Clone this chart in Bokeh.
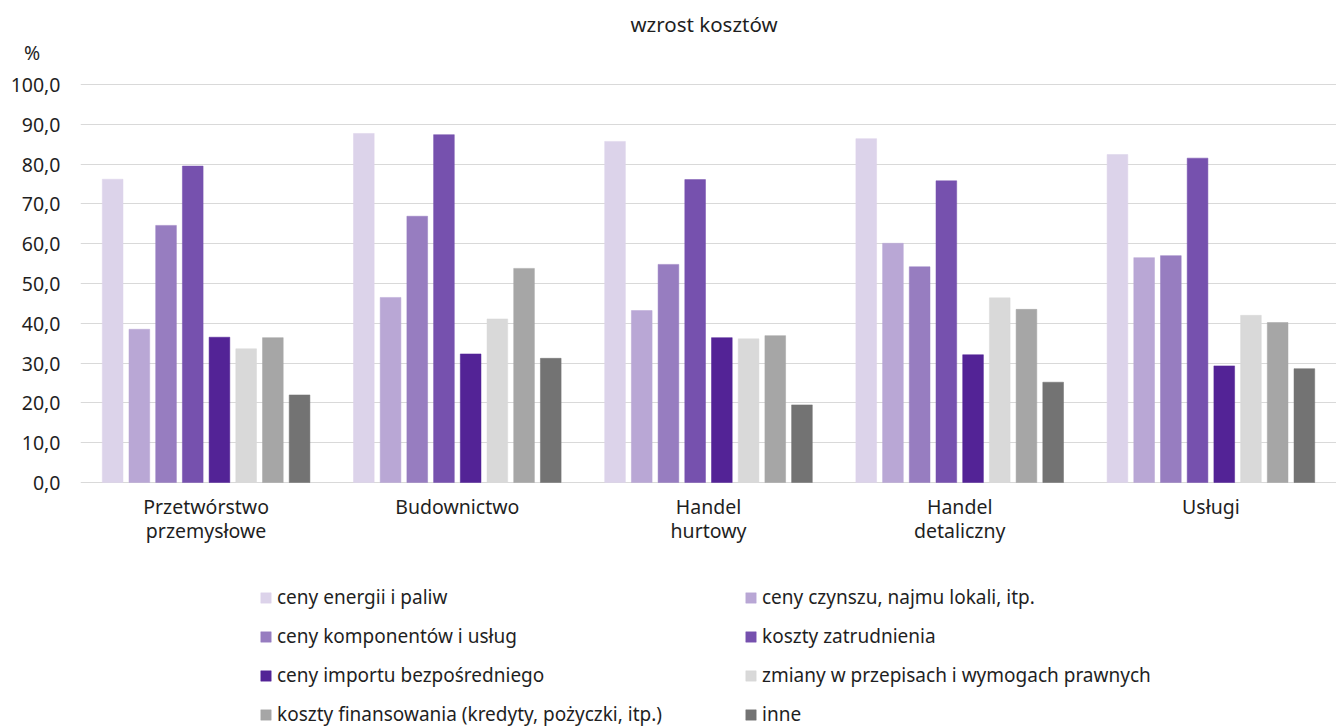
from bokeh.plotting import figure
from bokeh.models import FactorRange, Range1d, FixedTicker, Legend, LegendItem, ColumnDataSource, Label
from bokeh.transform import dodge
from bokeh.core.properties import value
from bokeh.embed import file_html
from bokeh.resources import INLINE

categories = ["Przetwórstwo\nprzemysłowe", "Budownictwo", "Handel\nhurtowy", "Handel\ndetaliczny", "Usługi"]

series_names = [
    "ceny energii i paliw",
    "ceny czynszu, najmu lokali, itp.",
    "ceny komponentów i usług",
    "koszty zatrudnienia",
    "ceny importu bezpośredniego",
    "zmiany w przepisach i wymogach prawnych",
    "koszty finansowania (kredyty, pożyczki, itp.)",
    "inne",
]
energia = [76.2, 87.7, 85.7, 86.4, 82.4]
czynsz = [38.5, 46.5, 43.2, 60.1, 56.5]
komponenty = [64.6, 66.9, 54.8, 54.2, 57.0]
zatrudnienie = [79.5, 87.4, 76.1, 75.8, 81.5]
import_bezp = [36.5, 32.3, 36.4, 32.1, 29.3]
przepisy = [33.6, 41.1, 36.1, 46.4, 42.0]
finansowanie = [36.4, 53.8, 36.9, 43.5, 40.2]
inne = [22.0, 31.2, 19.5, 25.2, 28.6]

colors = ["#DCD3EA", "#B9A7D5", "#977DC0", "#7651AE", "#532396", "#D9D9D9", "#A6A6A6", "#737373"]

y_ticks = [0, 10, 20, 30, 40, 50, 60, 70, 80, 90, 100]
y_tick_labels = ["0,0", "10,0", "20,0", "30,0", "40,0", "50,0", "60,0", "70,0", "80,0", "90,0", "100,0"]

title_text = "wzrost kosztów"
unit_text = "%"

FONT = "Noto Sans"
FS = "19.5px"
LFS = "19px"
TXT = "#1f1f1f"

# layout (pixels)
W, H = 1336, 727
LEFT = 80
Y100_PX, Y0_PX = 84, 482
PX_PER_UNIT = (Y0_PX - Y100_PX) / 100.0
y_max = 100 + Y100_PX / PX_PER_UNIT
y_min = -(H - Y0_PX) / PX_PER_UNIT
unit_pos = 100 + (Y100_PX - 52) / PX_PER_UNIT

keys = ["energia", "czynsz", "komponenty", "zatrudnienie", "import_bezp", "przepisy", "finansowanie", "inne"]
source = ColumnDataSource(data=dict(
    cat=categories, energia=energia, czynsz=czynsz, komponenty=komponenty,
    zatrudnienie=zatrudnienie, import_bezp=import_bezp, przepisy=przepisy,
    finansowanie=finansowanie, inne=inne))

p = figure(width=W, height=H, x_range=FactorRange(*categories, range_padding=0),
           y_range=Range1d(y_min, y_max), output_backend="svg", toolbar_location=None, title=None,
           min_border_left=LEFT, min_border_right=0, min_border_top=0, min_border_bottom=0)
p.outline_line_color = None
p.background_fill_color = "white"
p.border_fill_color = "white"
p.xaxis.visible = False

pitch = 0.1063
bw = 0.0824
renderers = []
for i, k in enumerate(keys):
    r = p.vbar(x=dodge("cat", (i - 3.5) * pitch, range=p.x_range), top=k, width=bw,
               source=source, fill_color=colors[i], line_color=colors[i], line_width=0.5)
    renderers.append(r)

p.xgrid.grid_line_color = None
p.ygrid.ticker = FixedTicker(ticks=y_ticks)
p.ygrid.grid_line_color = "#D9D9D9"
p.ygrid.grid_line_width = 1.2

p.yaxis.ticker = FixedTicker(ticks=y_ticks + [unit_pos])
overrides = {t: l for t, l in zip(y_ticks, y_tick_labels)}
overrides[unit_pos] = unit_text + "\u00a0\u00a0\u00a0\u00a0"
p.yaxis.major_label_overrides = overrides
p.yaxis.axis_line_color = None
p.yaxis.major_tick_line_color = None
p.yaxis.minor_tick_line_color = None
p.yaxis.major_tick_out = 0
p.yaxis.major_tick_in = 0
p.yaxis.major_label_standoff = 20
p.yaxis.major_label_text_font = FONT
p.yaxis.major_label_text_font_size = FS
p.yaxis.major_label_text_color = TXT

# category labels under the bars
p.text(x="cat", y=0, text="cat", source=source, y_offset=10, text_align="center",
       text_baseline="top", text_font=value(FONT), text_font_size=FS, text_color=TXT,
       text_line_height=0.9)

items = [LegendItem(label=n, renderers=[r]) for n, r in zip(series_names, renderers)]
legend = Legend(items=items, orientation="horizontal", ncols=2, location=(179, 0),
                padding=0, margin=0, spacing=13, glyph_width=13, glyph_height=13,
                label_standoff=5, label_width=454, label_height=24,
                label_text_font=FONT, label_text_font_size=LFS, label_text_color=TXT,
                border_line_color=None, background_fill_alpha=0)
p.add_layout(legend, "center")

p.add_layout(Label(x=623.5, y=H - 23, x_units="screen", y_units="screen", text=title_text,
                   text_align="center", text_baseline="middle", text_font=FONT,
                   text_font_size="20.5px", text_color=TXT))

open("out.html", "w").write(file_html(p, INLINE))
